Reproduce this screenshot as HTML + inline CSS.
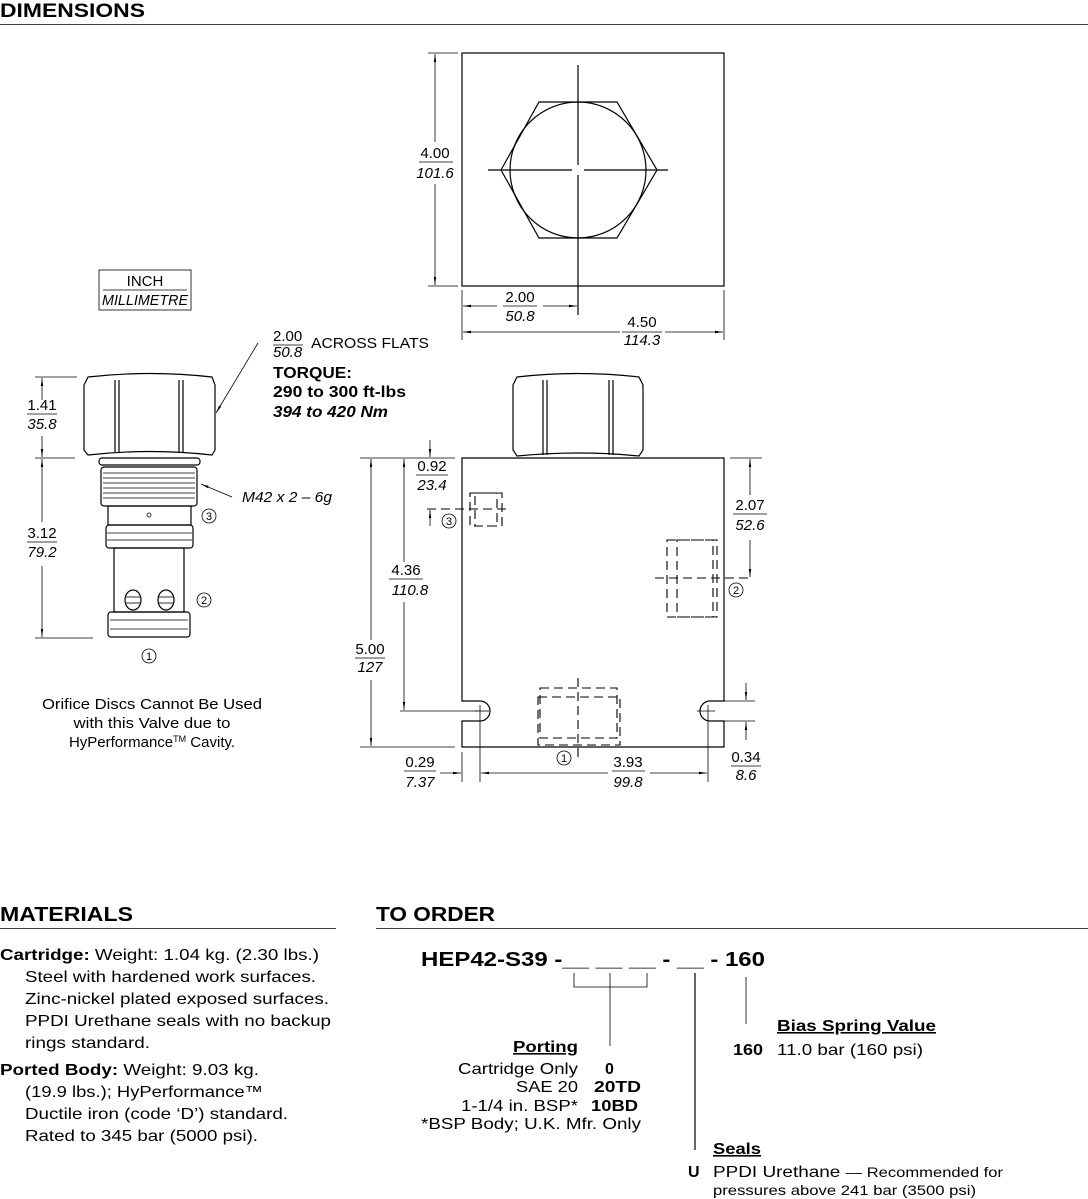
<!DOCTYPE html>
<html><head><meta charset="utf-8"><style>
html,body{margin:0;padding:0;background:#fff;}
svg{display:block;font-family:"Liberation Sans",Arial,sans-serif;}
.s{stroke:#000;stroke-width:1.2;fill:none;}
.t{stroke:#000;stroke-width:0.8;fill:none;}
.d{stroke:#000;stroke-width:1.1;fill:none;stroke-dasharray:9 5;}
text{fill:#000;}
.n{font-size:15px;}
.i{font-size:15px;font-style:italic;}
</style></head><body>
<svg width="1088" height="1199" viewBox="0 0 1088 1199">
<defs><marker id="a" viewBox="0 0 10 6" refX="10" refY="3" markerWidth="10" markerHeight="6" orient="auto-start-reverse"><path d="M0,1.5 L10,3 L0,4.5z" fill="#000"/></marker></defs>
<text x="0" y="17" font-size="19" font-weight="bold" textLength="145" lengthAdjust="spacingAndGlyphs">DIMENSIONS</text>
<line x1="0" y1="24.5" x2="1088" y2="24.5" class="t"/>

<!-- top view -->
<rect x="462" y="53" width="262" height="233" class="s"/>
<polygon points="501,170 539,102 617,102 657,170 617,238 539,238" class="s"/>
<circle cx="578" cy="170" r="68" class="s"/>
<line x1="578" y1="65" x2="578" y2="165" class="s"/><line x1="578" y1="175" x2="578" y2="315" class="s"/>
<line x1="488" y1="170" x2="572" y2="170" class="s"/><line x1="584" y1="170" x2="668" y2="170" class="s"/>
<line x1="428" y1="53" x2="458" y2="53" class="t"/><line x1="428" y1="286" x2="458" y2="286" class="t"/>
<line x1="435" y1="54" x2="435" y2="142" class="t" marker-start="url(#a)"/><line x1="435" y1="184" x2="435" y2="285" class="t" marker-end="url(#a)"/>
<text x="435" y="158" class="n" text-anchor="middle">4.00</text><line x1="419" y1="162" x2="453" y2="162" class="t"/><text x="435" y="178" class="i" text-anchor="middle">101.6</text>
<line x1="462" y1="290" x2="462" y2="340" class="t"/><line x1="724" y1="290" x2="724" y2="340" class="t"/>
<line x1="463" y1="306" x2="497" y2="306" class="t" marker-start="url(#a)"/><line x1="543" y1="306" x2="577" y2="306" class="t" marker-end="url(#a)"/>
<text x="520" y="302" class="n" text-anchor="middle">2.00</text><line x1="503" y1="306" x2="537" y2="306" class="t"/><text x="520" y="321" class="i" text-anchor="middle">50.8</text>
<line x1="463" y1="332" x2="620" y2="332" class="t" marker-start="url(#a)"/><line x1="665" y1="332" x2="723" y2="332" class="t" marker-end="url(#a)"/>
<text x="642" y="327" class="n" text-anchor="middle">4.50</text><line x1="622" y1="332" x2="662" y2="332" class="t"/><text x="642" y="345" class="i" text-anchor="middle">114.3</text>

<!-- inch box -->
<rect x="99" y="270" width="92" height="40" class="t"/>
<text x="145" y="286" class="n" text-anchor="middle">INCH</text><line x1="103" y1="290" x2="187" y2="290" class="t"/>
<text x="145" y="305" class="i" text-anchor="middle" textLength="86" lengthAdjust="spacingAndGlyphs">MILLIMETRE</text>

<!-- cartridge -->
<path d="M88,377 Q150,370 212,377 L215,385 L215,450 L212,455 Q150,448 88,455 L84,450 L84,385 Z" class="s"/>
<line x1="115" y1="380" x2="115" y2="452" class="s"/><line x1="119" y1="380" x2="119" y2="452" class="s"/>
<line x1="179" y1="380" x2="179" y2="452" class="s"/><line x1="183" y1="380" x2="183" y2="452" class="s"/>
<rect x="99" y="458" width="101" height="7" rx="3" class="s"/>
<rect x="101" y="467" width="96" height="39" rx="3" class="s"/>
<g class="t"><line x1="103" y1="473" x2="195" y2="473"/><line x1="103" y1="478" x2="195" y2="478"/><line x1="103" y1="483" x2="195" y2="483"/><line x1="103" y1="488" x2="195" y2="488"/><line x1="103" y1="493" x2="195" y2="493"/><line x1="103" y1="498" x2="195" y2="498"/></g>
<rect x="108" y="506" width="83" height="19" class="s"/>
<circle cx="149" cy="515" r="2" class="t"/>
<rect x="106" y="525" width="87" height="23" rx="3" class="s"/>
<line x1="107" y1="533" x2="192" y2="533" class="t"/><line x1="107" y1="540" x2="192" y2="540" class="t"/>
<rect x="114" y="548" width="70" height="64" class="s"/>
<ellipse cx="133" cy="600" rx="8" ry="10" class="s"/><line x1="125" y1="597" x2="141" y2="597" class="t"/><line x1="125" y1="603" x2="141" y2="603" class="t"/>
<ellipse cx="166" cy="600" rx="8" ry="10" class="s"/><line x1="158" y1="597" x2="174" y2="597" class="t"/><line x1="158" y1="603" x2="174" y2="603" class="t"/>
<rect x="108" y="612" width="82" height="25" rx="3" class="s"/>
<line x1="110" y1="620" x2="188" y2="620" class="t"/><line x1="110" y1="629" x2="188" y2="629" class="t"/>
<line x1="35" y1="377" x2="77" y2="377" class="t"/><line x1="35" y1="458" x2="75" y2="458" class="t"/><line x1="35" y1="638" x2="93" y2="638" class="t"/>
<line x1="42" y1="378" x2="42" y2="400" class="t" marker-start="url(#a)"/><line x1="42" y1="436" x2="42" y2="457" class="t" marker-end="url(#a)"/>
<text x="42" y="410" class="n" text-anchor="middle">1.41</text><line x1="27" y1="414" x2="57" y2="414" class="t"/><text x="42" y="429" class="i" text-anchor="middle">35.8</text>
<line x1="42" y1="459" x2="42" y2="522" class="t" marker-start="url(#a)"/><line x1="42" y1="566" x2="42" y2="637" class="t" marker-end="url(#a)"/>
<text x="42" y="538" class="n" text-anchor="middle">3.12</text><line x1="27" y1="542" x2="57" y2="542" class="t"/><text x="42" y="557" class="i" text-anchor="middle">79.2</text>
<line x1="258" y1="343" x2="216" y2="413" class="t" marker-end="url(#a)"/>
<text x="273" y="341" class="n">2.00</text><line x1="273" y1="345" x2="303" y2="345" class="t"/><text x="273" y="357" class="i">50.8</text>
<text x="311" y="348" class="n" textLength="118" lengthAdjust="spacingAndGlyphs">ACROSS FLATS</text>
<text x="273" y="378" font-size="16" font-weight="bold" textLength="79" lengthAdjust="spacingAndGlyphs">TORQUE:</text>
<text x="273" y="397" font-size="16" font-weight="bold" textLength="133" lengthAdjust="spacingAndGlyphs">290 to 300 ft-lbs</text>
<text x="273" y="417" font-size="16" font-weight="bold" font-style="italic" textLength="115" lengthAdjust="spacingAndGlyphs">394 to 420 Nm</text>
<line x1="232" y1="497" x2="201" y2="484" class="t" marker-end="url(#a)"/>
<text x="242" y="502" class="i" textLength="90" lengthAdjust="spacingAndGlyphs">M42 x 2 – 6g</text>
<g font-size="11" text-anchor="middle">
<circle cx="209" cy="516" r="7" class="t"/><text x="209" y="520">3</text>
<circle cx="204" cy="600" r="7" class="t"/><text x="204" y="604">2</text>
<circle cx="149" cy="656" r="7" class="t"/><text x="149" y="660">1</text>
<circle cx="449" cy="521" r="7" class="t"/><text x="449" y="525">3</text>
<circle cx="736" cy="590" r="7" class="t"/><text x="736" y="594">2</text>
<circle cx="564" cy="758" r="7" class="t"/><text x="564" y="762">1</text>
</g>
<g class="n" text-anchor="middle">
<text x="152" y="709" textLength="220" lengthAdjust="spacingAndGlyphs">Orifice Discs Cannot Be Used</text>
<text x="152" y="728" textLength="157" lengthAdjust="spacingAndGlyphs">with this Valve due to</text>
<text x="152" y="747">HyPerformance<tspan font-size="9" dy="-5">TM</tspan><tspan dy="5"> Cavity.</tspan></text>
</g>

<!-- body -->
<path d="M462,458 L724,458 L724,701 L710,701 A10,10 0 0 0 710,721 L724,721 L724,747 L462,747 L462,721 L480,721 A10,10 0 0 0 480,701 L462,701 Z" class="s"/>
<path d="M517,377 Q578,370 639,377 L643,385 L643,450 L639,456 Q578,450 517,456 L513,450 L513,385 Z" class="s"/>
<line x1="543" y1="380" x2="543" y2="455" class="s"/><line x1="547" y1="380" x2="547" y2="455" class="s"/>
<line x1="609" y1="380" x2="609" y2="455" class="s"/><line x1="613" y1="380" x2="613" y2="455" class="s"/>
<rect x="470" y="493" width="32" height="33" class="d"/><rect x="475" y="493" width="22" height="33" class="d"/>
<line x1="427" y1="509" x2="510" y2="509" class="d"/>
<rect x="667" y="540" width="50" height="77" class="d"/><rect x="677" y="540" width="36" height="77" class="d"/>
<line x1="655" y1="578" x2="752" y2="578" class="d"/>
<rect x="540" y="688" width="77" height="50" class="d"/><rect x="538" y="697" width="82" height="48" class="d"/>
<line x1="578" y1="678" x2="578" y2="762" class="d"/>
<line x1="475" y1="711" x2="489" y2="711" class="t"/><line x1="480" y1="705" x2="480" y2="782" class="t"/>
<line x1="697" y1="711" x2="715" y2="711" class="t"/><line x1="708" y1="705" x2="708" y2="782" class="t"/>
<line x1="360" y1="458" x2="455" y2="458" class="t"/><line x1="360" y1="747" x2="455" y2="747" class="t"/><line x1="400" y1="711" x2="478" y2="711" class="t"/>
<line x1="371" y1="459" x2="371" y2="640" class="t" marker-start="url(#a)"/><line x1="371" y1="680" x2="371" y2="746" class="t" marker-end="url(#a)"/>
<text x="370" y="654" class="n" text-anchor="middle">5.00</text><line x1="355" y1="658" x2="385" y2="658" class="t"/><text x="370" y="672" class="i" text-anchor="middle">127</text>
<line x1="404" y1="459" x2="404" y2="562" class="t" marker-start="url(#a)"/><line x1="404" y1="602" x2="404" y2="710" class="t" marker-end="url(#a)"/>
<text x="406" y="575" class="n" text-anchor="middle">4.36</text><line x1="389" y1="579" x2="423" y2="579" class="t"/><text x="410" y="595" class="i" text-anchor="middle">110.8</text>
<line x1="430" y1="440" x2="430" y2="457" class="t" marker-end="url(#a)"/><line x1="430" y1="526" x2="430" y2="510" class="t" marker-end="url(#a)"/>
<text x="432" y="471" class="n" text-anchor="middle">0.92</text><line x1="416" y1="475" x2="448" y2="475" class="t"/><text x="432" y="490" class="i" text-anchor="middle">23.4</text>
<line x1="730" y1="458" x2="762" y2="458" class="t"/>
<line x1="750" y1="459" x2="750" y2="495" class="t" marker-start="url(#a)"/><line x1="750" y1="540" x2="750" y2="577" class="t" marker-end="url(#a)"/>
<text x="750" y="510" class="n" text-anchor="middle">2.07</text><line x1="733" y1="514" x2="767" y2="514" class="t"/><text x="750" y="530" class="i" text-anchor="middle">52.6</text>
<line x1="724" y1="701" x2="755" y2="701" class="t"/><line x1="724" y1="721" x2="755" y2="721" class="t"/>
<line x1="746" y1="683" x2="746" y2="700" class="t" marker-end="url(#a)"/><line x1="746" y1="740" x2="746" y2="722" class="t" marker-end="url(#a)"/>
<text x="746" y="762" class="n" text-anchor="middle">0.34</text><line x1="731" y1="766" x2="761" y2="766" class="t"/><text x="746" y="780" class="i" text-anchor="middle">8.6</text>
<line x1="462" y1="752" x2="462" y2="782" class="t"/>
<line x1="440" y1="773" x2="461" y2="773" class="t" marker-end="url(#a)"/>
<text x="420" y="767" class="n" text-anchor="middle">0.29</text><line x1="404" y1="771" x2="436" y2="771" class="t"/><text x="420" y="787" class="i" text-anchor="middle">7.37</text>
<line x1="481" y1="773" x2="608" y2="773" class="t" marker-start="url(#a)"/><line x1="650" y1="773" x2="707" y2="773" class="t" marker-end="url(#a)"/>
<text x="628" y="767" class="n" text-anchor="middle">3.93</text><line x1="612" y1="771" x2="645" y2="771" class="t"/><text x="628" y="787" class="i" text-anchor="middle">99.8</text>

<!-- materials -->
<text x="0" y="921" font-size="20" font-weight="bold" textLength="133" lengthAdjust="spacingAndGlyphs">MATERIALS</text>
<line x1="0" y1="928.5" x2="336" y2="928.5" class="t"/>
<text x="376" y="921" font-size="20" font-weight="bold" textLength="119" lengthAdjust="spacingAndGlyphs">TO ORDER</text>
<line x1="376" y1="928.5" x2="1088" y2="928.5" class="t"/>
<g font-size="16">
<text x="0" y="960" textLength="319" lengthAdjust="spacingAndGlyphs"><tspan font-weight="bold">Cartridge:</tspan> Weight: 1.04 kg. (2.30 lbs.)</text>
<text x="25" y="982" textLength="291" lengthAdjust="spacingAndGlyphs">Steel with hardened work surfaces.</text>
<text x="25" y="1004" textLength="304" lengthAdjust="spacingAndGlyphs">Zinc-nickel plated exposed surfaces.</text>
<text x="25" y="1026" textLength="306" lengthAdjust="spacingAndGlyphs">PPDI Urethane seals with no backup</text>
<text x="25" y="1048" textLength="125" lengthAdjust="spacingAndGlyphs">rings standard.</text>
<text x="0" y="1075" textLength="259" lengthAdjust="spacingAndGlyphs"><tspan font-weight="bold">Ported Body:</tspan> Weight: 9.03 kg.</text>
<text x="25" y="1097" textLength="238" lengthAdjust="spacingAndGlyphs">(19.9 lbs.); HyPerformance™</text>
<text x="25" y="1119" textLength="263" lengthAdjust="spacingAndGlyphs">Ductile iron (code ‘D’) standard.</text>
<text x="25" y="1141" textLength="233" lengthAdjust="spacingAndGlyphs">Rated to 345 bar (5000 psi).</text>
</g>

<!-- order -->
<text x="421" y="966" font-size="20" font-weight="bold" textLength="344" lengthAdjust="spacingAndGlyphs">HEP42-S39 -__ __ __ - __ - 160</text>
<path d="M574,973 L574,987 L647,987 L647,973" class="t"/>
<line x1="610" y1="973" x2="610" y2="1046" class="t"/>
<line x1="695" y1="973" x2="695" y2="1150" class="s"/>
<line x1="746" y1="977" x2="746" y2="1024" class="t"/>
<g font-size="16">
<text x="578" y="1052" text-anchor="end" font-weight="bold" text-decoration="underline" textLength="65" lengthAdjust="spacingAndGlyphs">Porting</text>
<text x="578" y="1074" text-anchor="end" textLength="120" lengthAdjust="spacingAndGlyphs">Cartridge Only</text>
<text x="578" y="1092" text-anchor="end" textLength="62" lengthAdjust="spacingAndGlyphs">SAE 20</text>
<text x="578" y="1111" text-anchor="end" textLength="117" lengthAdjust="spacingAndGlyphs">1-1/4 in. BSP*</text>
<text x="641" y="1129" text-anchor="end" textLength="220" lengthAdjust="spacingAndGlyphs">*BSP Body; U.K. Mfr. Only</text>
<text x="605" y="1074" font-weight="bold">0</text>
<text x="594" y="1092" font-weight="bold" textLength="47" lengthAdjust="spacingAndGlyphs">20TD</text>
<text x="591" y="1111" font-weight="bold" textLength="47" lengthAdjust="spacingAndGlyphs">10BD</text>
<text x="777" y="1031" font-weight="bold" text-decoration="underline" textLength="159" lengthAdjust="spacingAndGlyphs">Bias Spring Value</text>
<text x="733" y="1055" font-weight="bold" textLength="30" lengthAdjust="spacingAndGlyphs">160</text>
<text x="777" y="1055" textLength="146" lengthAdjust="spacingAndGlyphs">11.0 bar (160 psi)</text>
<text x="713" y="1154" font-weight="bold" text-decoration="underline" textLength="48" lengthAdjust="spacingAndGlyphs">Seals</text>
<text x="688" y="1177" font-weight="bold">U</text>
<text x="713" y="1177" textLength="290" lengthAdjust="spacingAndGlyphs">PPDI Urethane <tspan font-size="14">— Recommended for</tspan></text>
<text x="713" y="1195" font-size="14" textLength="263" lengthAdjust="spacingAndGlyphs">pressures above 241 bar (3500 psi)</text>
</g>
</svg>
</body></html>
